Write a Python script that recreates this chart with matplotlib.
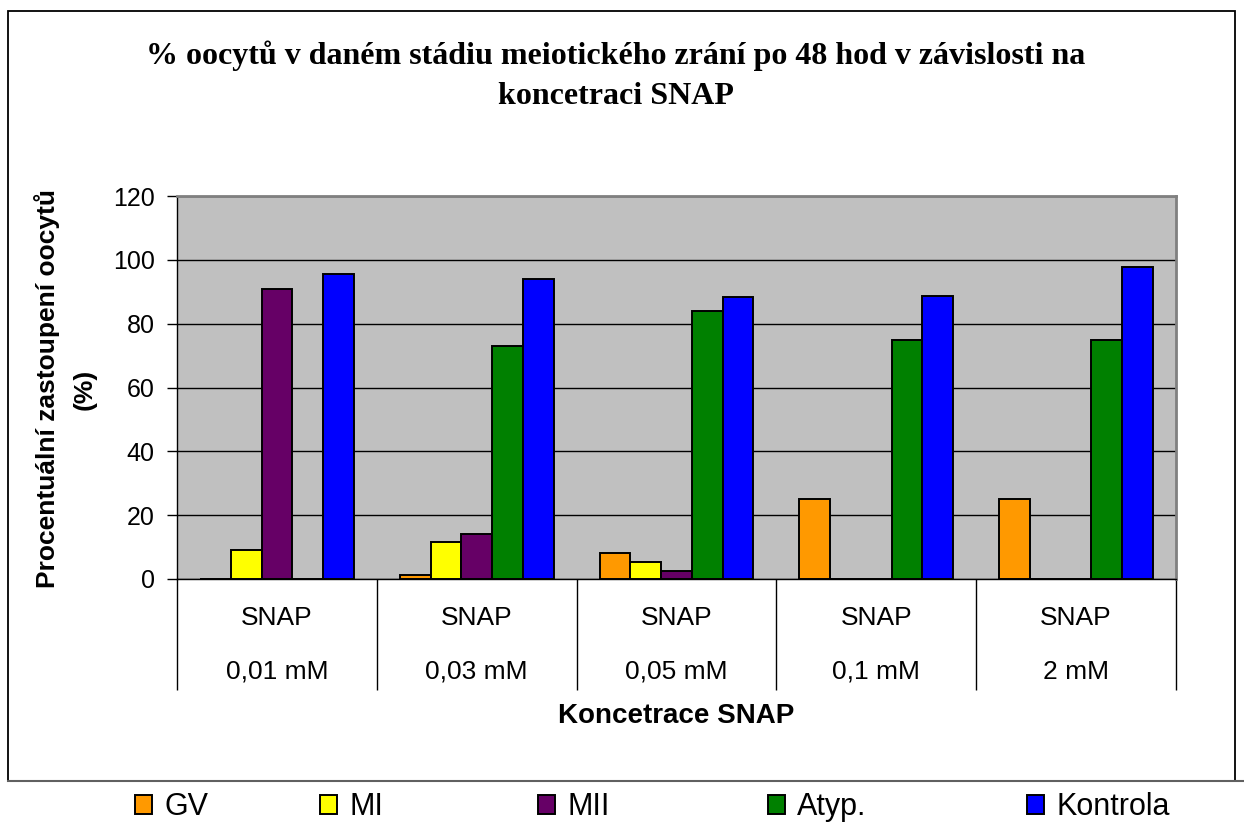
import matplotlib
matplotlib.use('Agg')
import matplotlib.pyplot as plt
from matplotlib.transforms import blended_transform_factory
from matplotlib.patches import Patch, Rectangle
from matplotlib.lines import Line2D
import numpy as np

# ---- data ----
categories_top = ['SNAP', 'SNAP', 'SNAP', 'SNAP', 'SNAP']
categories = ['0,01 mM', '0,03 mM', '0,05 mM', '0,1 mM', '2 mM']
series_names = ['GV', 'MI', 'MII', 'Atyp.', 'Kontrola']
gv = [0, 1.2, 8.0, 25, 25]
mi = [9.0, 11.5, 5.4, 0, 0]
mii = [91.0, 14.0, 2.6, 0, 0]
atyp = [0, 73.0, 84.0, 75, 75]
kontrola = [95.6, 94.0, 88.2, 88.8, 97.6]
yticks = [0, 20, 40, 60, 80, 100, 120]
colors = ['#FF9900', '#FFFF00', '#660066', '#008000', '#0000FF']

title_lines = ['% oocytů v daném stádiu meiotického zrání po 48 hod v závislosti na',
               'koncetraci SNAP']
ylabel_lines = ['Procentuální zastoupení oocytů', '(%)']
xlabel = 'Koncetrace SNAP'

# ---- layout ----
W, H = 1244, 825
fig = plt.figure(figsize=(W / 100, H / 100), dpi=100)
fig.patch.set_facecolor('white')

ax = fig.add_axes([177 / W, 1 - 579 / H, 999 / W, 383 / H])
ax.set_facecolor('#C0C0C0')

x = np.arange(len(categories))
bw = 1 / 6.5
for i, (vals, c) in enumerate(zip([gv, mi, mii, atyp, kontrola], colors)):
    ax.bar(x + (i - 2) * bw, vals, width=bw, color=c, edgecolor='black',
           linewidth=1.4, zorder=3)

ax.set_xlim(-0.5, len(categories) - 0.5)
ax.set_ylim(0, 120)
ax.set_yticks(yticks)
ax.set_yticklabels([str(v) for v in yticks], fontsize=18, family='Liberation Sans')
ax.tick_params(axis='y', length=7, width=1, pad=9, direction='out')
ax.set_axisbelow(True)
ax.yaxis.grid(True, color='black', linewidth=1)

ax.set_xticks(x)
ax.set_xticklabels([])
ax.tick_params(axis='x', which='major', length=0)
ax.set_xticks(np.arange(len(categories) + 1) - 0.5, minor=True)
ax.tick_params(axis='x', which='minor', length=111 * 0.72, width=1, color='black', direction='out')

for s in ['left', 'bottom']:
    ax.spines[s].set_color('black')
    ax.spines[s].set_linewidth(1)
for s in ['top', 'right']:
    ax.spines[s].set_color('#808080')
    ax.spines[s].set_linewidth(2)

trans = blended_transform_factory(ax.transData, ax.transAxes)
for xi, t1, t2 in zip(x, categories_top, categories):
    ax.text(xi, -39 / 383, t1, transform=trans, ha='center', va='center',
            fontsize=19, family='Liberation Sans')
    ax.text(xi, -93 / 383, t2, transform=trans, ha='center', va='center',
            fontsize=19, family='Liberation Sans')

# titles
fig.text(616 / W, 1 - 56 / H, title_lines[0], ha='center', va='center',
         fontsize=23, fontweight='bold', family='Liberation Serif')
fig.text(616 / W, 1 - 96 / H, title_lines[1], ha='center', va='center',
         fontsize=23, fontweight='bold', family='Liberation Serif')
fig.text(676.5 / W, 1 - 716 / H, xlabel, ha='center', va='center',
         fontsize=20, fontweight='bold', family='Liberation Sans')
fig.text(47 / W, 1 - 389 / H, ylabel_lines[0], ha='center', va='center', rotation=90,
         fontsize=19, fontweight='bold', family='Liberation Sans')
fig.text(85 / W, 1 - 389 / H, ylabel_lines[1], ha='center', va='center', rotation=90,
         fontsize=19, fontweight='bold', family='Liberation Sans')

# frame
fig.add_artist(Rectangle((8 / W, 1 - 781 / H), (1235 - 8) / W, (781 - 11) / H,
                         transform=fig.transFigure, fill=False, edgecolor='black', linewidth=1.3))
fig.add_artist(Line2D([8 / W, 1], [1 - 781 / H, 1 - 781 / H], transform=fig.transFigure,
                      color='#606060', linewidth=1.5))

# legend
legend_x = [135, 320, 538, 768, 1027]
for name, c, lx in zip(series_names, colors, legend_x):
    fig.legend(handles=[Patch(facecolor=c, edgecolor='black', linewidth=1.4)], labels=[name],
               loc='center left', bbox_to_anchor=(lx / W, 1 - 807 / H), frameon=False,
               borderpad=0, borderaxespad=0, handlelength=0.56, handleheight=0.56,
               handletextpad=0.4, prop={'family': 'Liberation Sans', 'size': 22})

fig.savefig('out.png', dpi=100)
